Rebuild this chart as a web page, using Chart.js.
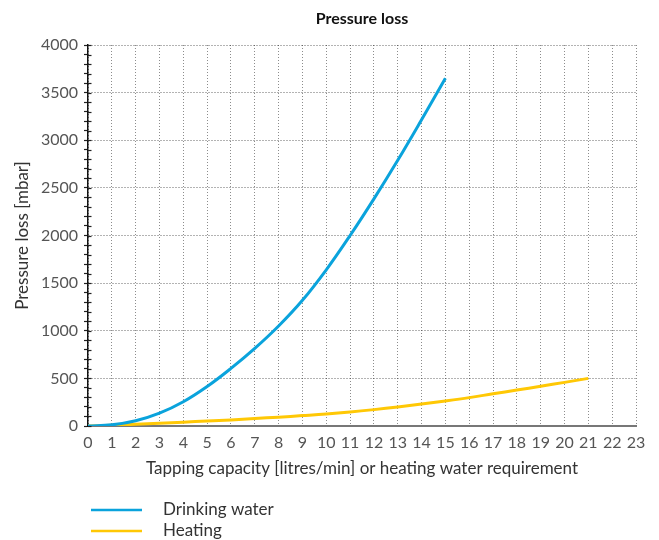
<!DOCTYPE html>
<html><head><meta charset="utf-8">
<script src="https://cdn.jsdelivr.net/npm/chart.js@4"></script>
<style>html,body{margin:0;padding:0;background:#fff}</style>
</head><body>
<canvas id="c" width="659" height="540"></canvas>
<script>
// Data
const waterFlow = [0, 1, 2, 3, 4, 5, 6, 7, 8, 9, 10, 11, 12, 13, 14, 15];
const waterLoss = [0, 12, 55, 135, 255, 415, 605, 815, 1050, 1320, 1640, 2000, 2385, 2790, 3215, 3650];
const heatFlow = [0, 1, 2, 3, 4, 5, 6, 7, 8, 9, 10, 11, 12, 13, 14, 15, 16, 17, 18, 19, 20, 21];
const heatLoss = [0, 8, 18, 28, 40, 52, 64, 78, 93, 109, 126, 147, 172, 200, 231, 263, 298, 338, 377, 417, 458, 500];
const seriesNames = ['Drinking water', 'Heating'];
const chartTitle = 'Pressure loss';
const xTitle = 'Tapping capacity [litres/min] or heating water requirement';
const yTitle = 'Pressure loss [mbar]';

const FONT = 'Lato';
const BLUE = '#0aa3dc';
const YELLOW = '#ffc805';

const innerTicks = {
  id: 'innerTicks',
  afterDraw(chart) {
    const s = chart.scales.y, ctx = chart.ctx;
    ctx.save();
    ctx.strokeStyle = '#222';
    ctx.lineWidth = 1.2;
    s.ticks.forEach(t => {
      const py = Math.round(s.getPixelForValue(t.value)) + 0.5;
      ctx.beginPath();
      ctx.moveTo(s.right, py);
      ctx.lineTo(s.right + 3.5, py);
      ctx.stroke();
    });
    ctx.restore();
  }
};

const bottomLegend = {
  id: 'bottomLegend',
  afterDraw(chart) {
    const ctx = chart.ctx;
    const left = chart.chartArea.left;
    chart.data.datasets.forEach((ds, i) => {
      const y = 510 + i * 21;
      ctx.save();
      ctx.strokeStyle = ds.borderColor;
      ctx.lineWidth = 2.5;
      ctx.beginPath();
      ctx.moveTo(left + 3, y);
      ctx.lineTo(left + 54, y);
      ctx.stroke();
      ctx.fillStyle = '#333';
      ctx.font = '17px ' + FONT;
      ctx.textBaseline = 'middle';
      ctx.fillText(ds.label, left + 75, y);
      ctx.restore();
    });
  }
};

new Chart(document.getElementById('c'), {
  type: 'line',
  data: {
    datasets: [
      {
        label: seriesNames[0],
        data: waterFlow.map((x, i) => ({ x, y: waterLoss[i] })),
        borderColor: BLUE,
        borderWidth: 3,
        pointRadius: 0,
        tension: 0.4,
        fill: false
      },
      {
        label: seriesNames[1],
        data: heatFlow.map((x, i) => ({ x, y: heatLoss[i] })),
        borderColor: YELLOW,
        borderWidth: 3,
        pointRadius: 0,
        tension: 0.4,
        fill: false
      }
    ]
  },
  options: {
    responsive: false,
    animation: false,
    events: [],
    layout: { padding: { left: 0, right: 23, top: 0, bottom: 58 } },
    plugins: {
      legend: { display: false },
      tooltip: { enabled: false },
      title: {
        display: true,
        text: chartTitle,
        fullSize: false,
        color: '#111',
        font: { family: FONT, size: 16, weight: 'bold', lineHeight: 1.2 },
        padding: { top: 9, bottom: 16.8 }
      }
    },
    scales: {
      x: {
        type: 'linear',
        min: 0,
        max: 23,
        ticks: {
          stepSize: 1,
          autoSkip: false,
          maxRotation: 0,
          color: '#555',
          padding: 7,
          font: { family: FONT, size: 16 }
        },
        grid: {
          color: 'rgba(0,0,0,0.45)',
          lineWidth: 1,
          drawTicks: false
        },
        border: { display: true, color: '#777', width: 2, dash: [1, 2] },
        title: {
          display: true,
          text: xTitle,
          color: '#333',
          font: { family: FONT, size: 17 },
          padding: { top: 6, bottom: 3 }
        },
        afterFit(s) { s.height = 56; }
      },
      y: {
        min: 0,
        max: 4000,
        ticks: {
          stepSize: 100,
          autoSkip: false,
          color: '#555',
          padding: 6,
          font: { family: FONT, size: 16 },
          callback: v => (v % 500 === 0 ? String(v) : '')
        },
        grid: {
          color: c => (c.tick && c.tick.value % 500 === 0 ? 'rgba(0,0,0,0.6)' : 'rgba(0,0,0,0)'),
          lineWidth: 1,
          tickColor: '#222',
          tickLength: 4,
          tickWidth: 1.2
        },
        border: { display: true, color: '#111', width: 1.5, dash: [1, 2] },
        title: {
          display: true,
          text: yTitle,
          color: '#333',
          font: { family: FONT, size: 17 },
          padding: { top: 12, bottom: 4 }
        },
        afterFit(s) { s.width = 88; }
      }
    }
  },
  plugins: [innerTicks, bottomLegend]
});
</script>
</body></html>
